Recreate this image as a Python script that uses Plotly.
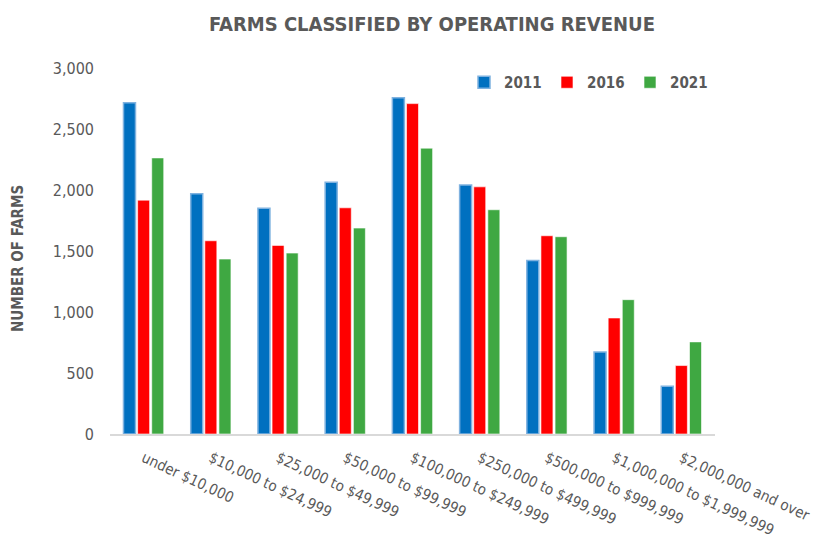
import plotly.graph_objects as go

categories = ["under $10,000", "$10,000 to $24,999", "$25,000 to $49,999",
              "$50,000 to $99,999", "$100,000 to $249,999", "$250,000 to $499,999",
              "$500,000 to $999,999", "$1,000,000 to $1,999,999", "$2,000,000 and over"]
farms_2011 = [2716, 1969, 1851, 2064, 2757, 2040, 1423, 673, 391]
farms_2016 = [1917, 1584, 1546, 1854, 2708, 2026, 1625, 951, 561]
farms_2021 = [2263, 1434, 1483, 1688, 2343, 1838, 1617, 1101, 755]
y_ticks = [0, 500, 1000, 1500, 2000, 2500, 3000]

FONT = "DejaVu Sans Condensed, Liberation Sans Narrow, Arial Narrow, sans-serif"
GRAY = "#595959"

# page body has an 8px margin; layout numbers below are shifted accordingly
L, T, W, H = 102, 60, 605, 366

fig = go.Figure()
fig.add_trace(go.Bar(name="<b>2011</b>", x=categories, y=farms_2011,
                     marker=dict(color="#0070C0", line=dict(color="#7FB2E0", width=1.5))))
fig.add_trace(go.Bar(name="<b>2016</b>", x=categories, y=farms_2016,
                     marker=dict(color="#FF0000", line=dict(color="rgba(255,255,255,0.6)", width=1))))
fig.add_trace(go.Bar(name="<b>2021</b>", x=categories, y=farms_2021,
                     marker=dict(color="#3FA842", line=dict(color="rgba(255,255,255,0.6)", width=1))))

fig.update_layout(
    width=819, height=542,
    paper_bgcolor="white", plot_bgcolor="white",
    margin=dict(l=L, r=819 - L - W, t=T, b=542 - T - H, autoexpand=False),
    barmode="group", bargap=0.37, bargroupgap=0.15,
    font=dict(family=FONT, color=GRAY, size=15),
    title=dict(text="<b>FARMS CLASSIFIED BY OPERATING REVENUE</b>",
               x=424/819, xanchor="center", y=1-16/542, yanchor="middle",
               font=dict(family=FONT, size=20, color=GRAY)),
    legend=dict(orientation="h", itemwidth=30, entrywidth=38, entrywidthmode="pixels",
                x=(456-L)/W, y=(T+H-58)/H, xanchor="left", yanchor="top",
                font=dict(family=FONT, size=15, color=GRAY),
                bgcolor="rgba(0,0,0,0)", traceorder="normal"),
    showlegend=True,
    annotations=[dict(text="<b>NUMBER OF FARMS</b>", textangle=-90,
                      xref="paper", yref="paper",
                      x=(10 - L)/W, y=(T+H-251)/H, xanchor="center", yanchor="middle",
                      showarrow=False, font=dict(family=FONT, size=15, color=GRAY))],
)
fig.update_xaxes(showgrid=False, showline=True, linecolor="#D9D9D9", linewidth=1.5,
                 automargin=False, ticklabelstandoff=8,
                 ticks="", tickangle=25, tickfont=dict(family=FONT, size=15, color=GRAY))
fig.update_yaxes(range=[0, 3000], tickvals=y_ticks, tickformat=",", showgrid=False,
                 showline=False, zeroline=False, ticks="", automargin=False,
                 ticklabelstandoff=15,
                 tickfont=dict(family=FONT, size=16, color=GRAY))

fig.write_html("out.html")
